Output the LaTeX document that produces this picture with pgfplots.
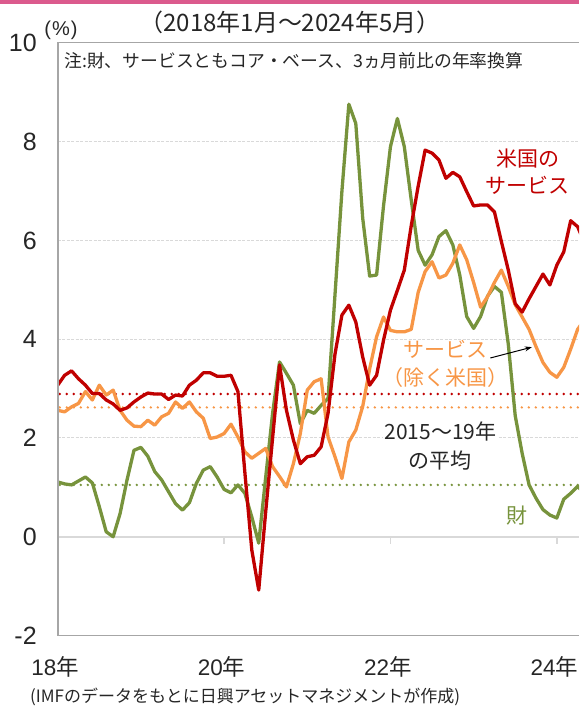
\documentclass[border=0pt]{standalone}
\usepackage{pgfplots}
\pgfplotsset{compat=1.18}
\usepackage{pgfplotstable}
\usetikzlibrary{arrows.meta}
\usepackage{fontspec}
\setmainfont{Liberation Sans}
\newfontfamily\jp{Noto Sans CJK JP}
\definecolor{cred}{HTML}{C00000}
\definecolor{corange}{HTML}{F79646}
\definecolor{cgreen}{HTML}{77933C}
\definecolor{cpink}{HTML}{DB5A8D}
\definecolor{cgrid}{HTML}{D9D9D9}
\definecolor{caxis}{HTML}{A6A6A6}
\definecolor{ctext}{HTML}{262626}

\pgfplotstableread{
m r o g
0 3.07 2.56 1.11
1 3.27 2.53 1.07
2 3.36 2.63 1.05
3 3.20 2.70 1.13
4 3.07 2.94 1.21
5 2.90 2.77 1.09
6 2.90 3.07 0.61
7 2.77 2.87 0.10
8 2.69 2.97 0.00
9 2.56 2.56 0.47
10 2.61 2.36 1.15
11 2.73 2.24 1.75
12 2.83 2.23 1.81
13 2.91 2.36 1.63
14 2.89 2.26 1.32
15 2.89 2.43 1.15
16 2.78 2.50 0.91
17 2.87 2.73 0.67
18 2.85 2.60 0.54
19 3.07 2.73 0.69
20 3.17 2.53 1.08
21 3.32 2.40 1.35
22 3.32 1.99 1.42
23 3.25 2.02 1.21
24 3.25 2.09 0.96
25 3.27 2.28 0.89
26 2.94 2.02 1.05
27 1.30 1.72 0.88
28 -0.27 1.59 0.40
29 -1.08 1.69 -0.13
30 0.50 1.79 1.20
31 2.00 1.42 2.50
32 3.48 1.22 3.54
33 2.56 1.01 3.31
34 1.96 1.48 3.07
35 1.48 2.09 2.29
36 1.62 2.97 2.56
37 1.65 3.14 2.50
38 1.82 3.20 2.66
39 2.50 2.02 2.80
40 3.70 1.62 4.90
41 4.49 1.18 7.00
42 4.69 1.92 8.76
43 4.35 2.16 8.37
44 3.64 2.64 6.45
45 3.07 3.40 5.28
46 3.27 4.05 5.30
47 3.98 4.45 6.70
48 4.59 4.18 7.90
49 4.99 4.15 8.47
50 5.40 4.15 7.90
51 6.30 4.20 6.82
52 7.10 4.95 5.80
53 7.83 5.37 5.50
54 7.77 5.57 5.71
55 7.63 5.24 6.08
56 7.26 5.30 6.20
57 7.38 5.54 5.91
58 7.29 5.91 5.30
59 6.99 5.61 4.46
60 6.70 5.15 4.22
61 6.72 4.65 4.46
62 6.72 4.86 4.87
63 6.58 5.15 5.07
64 5.98 5.40 4.95
65 5.40 5.07 3.90
66 4.72 4.70 2.45
67 4.55 4.45 1.69
68 4.82 4.20 1.05
69 5.07 3.85 0.78
70 5.32 3.53 0.55
71 5.10 3.33 0.44
72 5.50 3.23 0.38
73 5.77 3.43 0.76
74 6.40 3.80 0.88
75 6.28 4.20 1.02
76 5.95 4.40 0.88
}\datatable

\begin{document}
\begin{tikzpicture}
\path[use as bounding box] (-57.7pt,-71.5pt) rectangle (521.3pt,635.5pt);
\fill[cpink] (-57.7pt,631.5pt) rectangle (521.3pt,635.5pt);
\begin{axis}[
  at={(0pt,0pt)}, anchor=south west, scale only axis,
  width=521.3pt, height=592.5pt,
  xmin=0, xmax=75.2, ymin=-2, ymax=10,
  axis line style={draw=none},
  major tick length=0pt,
  xtick={0,24,48,72},
  xticklabels={18{\jp 年},20{\jp 年},22{\jp 年},24{\jp 年}},
  ytick={-2,0,2,4,6,8,10},
  yticklabels={-2,0,2,4,6,8,10},
  xticklabel style={font=\fontsize{22.5}{27}\selectfont, text=ctext, yshift=-17pt, xshift=-2.5pt},
  yticklabel style={font=\fontsize{25}{29}\selectfont, text=ctext, xshift=-17.5pt},
  ymajorgrids,
  grid style={cgrid, line width=1pt, dash pattern=on 3pt off 1.5pt},
  line join=round,
]
% zero line and small ticks
\draw[cgrid, line width=1.6pt] (axis cs:0,0) -- (axis cs:75.2,0);
\draw[cgrid, line width=1.6pt] (axis cs:24,0) -- ([yshift=-7pt]axis cs:24,0);
\draw[cgrid, line width=1.6pt] (axis cs:48,0) -- ([yshift=-7pt]axis cs:48,0);
\draw[cgrid, line width=1.6pt] (axis cs:72,0) -- ([yshift=-7pt]axis cs:72,0);
% 2015-19 averages
\addplot[cred, line width=2.7pt, line cap=round, dash pattern=on 0pt off 7pt] coordinates {(0.3,2.89) (76,2.89)};
\addplot[corange, line width=2.7pt, line cap=round, dash pattern=on 0pt off 7pt] coordinates {(0.3,2.62) (76,2.62)};
\addplot[cgreen, line width=2.7pt, line cap=round, dash pattern=on 0pt off 7pt] coordinates {(0.3,1.05) (76,1.05)};
% series
\addplot[cgreen, line width=3.3pt] table[x=m, y=g] {\datatable};
\addplot[corange, line width=3.3pt] table[x=m, y=o] {\datatable};
\addplot[cred, line width=3.3pt] table[x=m, y=r] {\datatable};
% labels
\node[text=cred, font=\jp\fontsize{21}{27}\selectfont, align=center] at (axis cs:67.8,7.4) {米国の\\サービス};
\node[text=corange, font=\jp\fontsize{21}{28}\selectfont, align=center] at (axis cs:55.9,3.5) {サービス\\（除く米国）};
\node[text=ctext, fill=white, inner sep=1pt, font=\jp\fontsize{21}{29}\selectfont, align=center] at (axis cs:55.2,1.83) {2015～19年\\の平均};
\node[text=cgreen, font=\jp\fontsize{21}{26}\selectfont] at (axis cs:66.3,0.42) {財};
\draw[-{Stealth[length=7pt,width=5pt]}, line width=1pt, black] (axis cs:62.4,3.62) -- (axis cs:68.4,3.84);
\node[anchor=west, text=ctext, font=\jp\fontsize{17.8}{20}\selectfont] at (rel axis cs:0.006,0.9697) {注:財、サービスともコア・ベース、3ヵ月前比の年率換算};
\end{axis}
% frame
\draw[caxis, line width=1pt] (521.3pt,0pt) -- (0pt,0pt) -- (0pt,592.5pt) -- (521.3pt,592.5pt);
\draw[caxis, line width=2pt] (0pt,0pt) -- (0pt,592.5pt);
% titles
\node[text=ctext, font=\jp\fontsize{24}{28}\selectfont] at (232.3pt,613pt) {（2018年1月～2024年5月）};
\node[text=ctext, font=\fontsize{20}{24}\selectfont, inner sep=0pt] at (3.3pt,605.5pt) {(\kern1pt\%\kern1pt)};
\node[anchor=west, text=ctext, font=\jp\fontsize{17}{20}\selectfont, inner sep=0pt] at (-27.7pt,-61.5pt) {(IMFのデータをもとに日興アセットマネジメントが作成)};
\end{tikzpicture}
\end{document}
